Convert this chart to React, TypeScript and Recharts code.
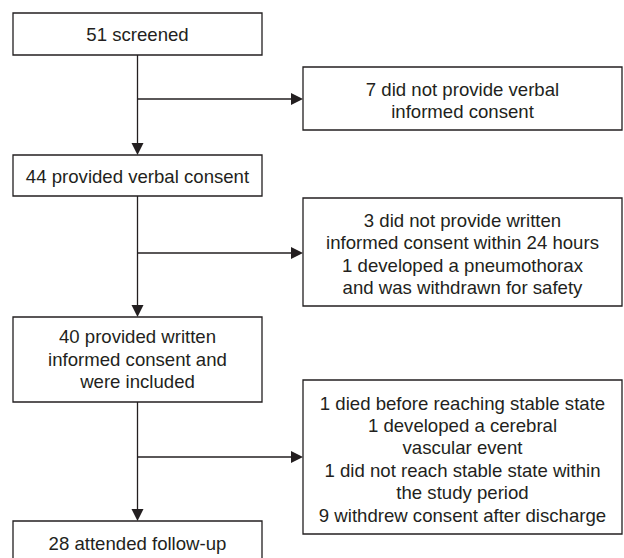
import React from 'react';
import { ComposedChart, XAxis, YAxis, ReferenceArea, ReferenceLine, ReferenceDot } from 'recharts';

// flow steps (main column) and exclusions (right column)
const mainSteps = [
  ['51 screened'],
  ['44 provided verbal consent'],
  ['40 provided written', 'informed consent and', 'were included'],
  ['28 attended follow-up'],
];

const exclusions = [
  ['7 did not provide verbal', 'informed consent'],
  [
    '3 did not provide written',
    'informed consent within 24 hours',
    '1 developed a pneumothorax',
    'and was withdrawn for safety',
  ],
  [
    '1 died before reaching stable state',
    '1 developed a cerebral',
    'vascular event',
    '1 did not reach stable state within',
    'the study period',
    '9 withdrew consent after discharge',
  ],
];

// layout (pixel space of the 624x558 canvas)
const W = 624;
const H = 558;
const LEFT = { x1: 13, x2: 262 };
const RIGHT = { x1: 303, x2: 622 };
const mainRows = [
  { y1: 13, y2: 55 },
  { y1: 155, y2: 196 },
  { y1: 317, y2: 402 },
  { y1: 521, y2: 575 },
];
const mainTextY = [34, 176, 359, 543];
const exclRows = [
  { y1: 67, y2: 130 },
  { y1: 198, y2: 306 },
  { y1: 380, y2: 534 },
];
const branchY = [99, 253, 457];

const STROKE = '#231f20';
const FONT = '"Liberation Sans", Arial, sans-serif';
const LINE_H = 22.4;
const stemX = (LEFT.x1 + LEFT.x2) / 2;

const TextBlock = ({ cx, cy, lines }: any) => {
  const top = cy - ((lines.length - 1) * LINE_H) / 2;
  return (
    <text textAnchor="middle" fontFamily={FONT} fontSize={18.6} fill="#231f20">
      {lines.map((l: string, i: number) => (
        <tspan key={i} x={cx} y={top + i * LINE_H} dominantBaseline="central">
          {l}
        </tspan>
      ))}
    </text>
  );
};

const ArrowDown = ({ cx, cy }: any) => (
  <path d={`M${cx - 6},${cy - 12} L${cx + 6},${cy - 12} L${cx},${cy} Z`} fill={STROKE} />
);
const ArrowRight = ({ cx, cy }: any) => (
  <path d={`M${cx - 12},${cy - 6} L${cx - 12},${cy + 6} L${cx},${cy} Z`} fill={STROKE} />
);

export default function App() {
  return (
    <div style={{ position: 'absolute', left: 0, top: 0, background: '#fff' }}>
      <ComposedChart width={W} height={H} data={[]} margin={{ top: 0, right: 0, bottom: 0, left: 0 }}>
        <XAxis type="number" dataKey="x" domain={[0, W]} hide allowDataOverflow />
        <YAxis type="number" dataKey="y" domain={[0, H]} reversed hide allowDataOverflow />

        {/* vertical connectors */}
        {mainRows.slice(0, -1).map((r, i) => (
          <ReferenceLine
            key={`v${i}`}
            segment={[{ x: stemX, y: r.y2 }, { x: stemX, y: mainRows[i + 1].y1 - 10 }]}
            stroke={STROKE}
            strokeWidth={1.3}
            ifOverflow="visible"
          />
        ))}
        {/* horizontal branches */}
        {branchY.map((y, i) => (
          <ReferenceLine
            key={`h${i}`}
            segment={[{ x: stemX, y }, { x: RIGHT.x1 - 10, y }]}
            stroke={STROKE}
            strokeWidth={1.3}
            ifOverflow="visible"
          />
        ))}
        {mainRows.slice(1).map((r, i) => (
          <ReferenceDot key={`ad${i}`} x={stemX} y={r.y1} ifOverflow="visible" shape={<ArrowDown />} />
        ))}
        {branchY.map((y, i) => (
          <ReferenceDot key={`ar${i}`} x={RIGHT.x1} y={y} ifOverflow="visible" shape={<ArrowRight />} />
        ))}

        {/* boxes */}
        {mainRows.map((r, i) => (
          <ReferenceArea
            key={`mb${i}`}
            x1={LEFT.x1}
            x2={LEFT.x2}
            y1={r.y1}
            y2={r.y2}
            fill="#fff"
            fillOpacity={1}
            stroke={STROKE}
            strokeWidth={1.3}
            ifOverflow="visible"
          />
        ))}
        {exclRows.map((r, i) => (
          <ReferenceArea
            key={`eb${i}`}
            x1={RIGHT.x1}
            x2={RIGHT.x2}
            y1={r.y1}
            y2={r.y2}
            fill="#fff"
            fillOpacity={1}
            stroke={STROKE}
            strokeWidth={1.3}
            ifOverflow="visible"
          />
        ))}

        {/* labels */}
        {mainSteps.map((lines, i) => (
          <ReferenceDot
            key={`mt${i}`}
            x={stemX}
            y={mainTextY[i]}
            ifOverflow="visible"
            shape={(p: any) => <TextBlock cx={p.cx} cy={p.cy} lines={lines} />}
          />
        ))}
        {exclusions.map((lines, i) => (
          <ReferenceDot
            key={`et${i}`}
            x={(RIGHT.x1 + RIGHT.x2) / 2}
            y={(exclRows[i].y1 + exclRows[i].y2) / 2 + 2}
            ifOverflow="visible"
            shape={(p: any) => <TextBlock cx={p.cx} cy={p.cy} lines={lines} />}
          />
        ))}
      </ComposedChart>
    </div>
  );
}
